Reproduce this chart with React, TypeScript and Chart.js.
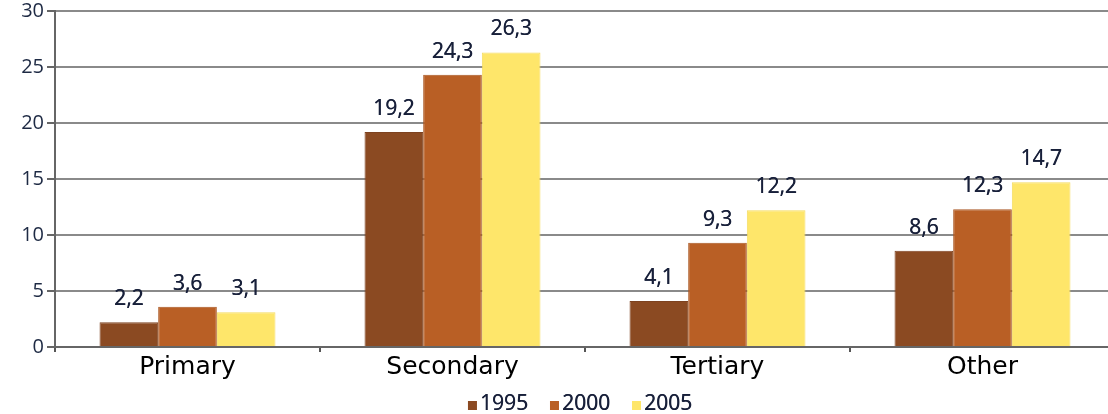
import React, { useEffect, useRef } from "react";
import { Chart, registerables } from "chart.js";

Chart.register(...registerables);

const categories = ["Primary", "Secondary", "Tertiary", "Other"];
const seriesNames = ["1995", "2000", "2005"];
const values1995 = [2.2, 19.2, 4.1, 8.6];
const values2000 = [3.6, 24.3, 9.3, 12.3];
const values2005 = [3.1, 26.3, 12.2, 14.7];
const seriesColors = ["#8B4A22", "#B95F25", "#FEE66A"];
const seriesBorders = ["#7d4220", "#a95622", "#f5dc5f"];
const yTicks = [0, 5, 10, 15, 20, 25, 30];

const labelFont = "'Open Sans', 'DejaVu Sans', sans-serif";

const dataLabelPlugin = {
  id: "dataLabels",
  afterDatasetsDraw(chart: any) {
    const ctx = chart.ctx;
    ctx.save();
    ctx.font = `21px ${labelFont}`;
    ctx.fillStyle = "#18203a";
    ctx.textAlign = "center";
    ctx.textBaseline = "middle";
    chart.data.datasets.forEach((ds: any, i: number) => {
      const meta = chart.getDatasetMeta(i);
      meta.data.forEach((bar: any, j: number) => {
        const v = ds.data[j];
        const t = String(v).replace(".", ",");
        ctx.fillText(t, bar.x, bar.y - 23);
        ctx.fillText(t, bar.x + 0.4, bar.y - 23);
      });
    });
    ctx.restore();
  },
};

const legendPlugin = {
  id: "customLegend",
  afterDraw(chart: any) {
    const ctx = chart.ctx;
    ctx.save();
    ctx.font = `21px ${labelFont}`;
    ctx.textBaseline = "alphabetic";
    ctx.textAlign = "left";
    const box = 9;
    const gap = 3;
    const itemGap = 22;
    const items = chart.data.datasets.map((ds: any) => ({
      label: ds.label,
      color: ds.backgroundColor,
      w: box + gap + ctx.measureText(ds.label).width,
    }));
    const total =
      items.reduce((s: number, it: any) => s + it.w, 0) + itemGap * (items.length - 1);
    const center = (chart.chartArea.left + chart.chartArea.right) / 2 - 5;
    let x = center - total / 2;
    const baseline = 410;
    items.forEach((it: any) => {
      ctx.fillStyle = it.color;
      ctx.fillRect(x, baseline - box, box, box);
      ctx.fillStyle = "#18203a";
      ctx.fillText(it.label, x + box + gap, baseline);
      ctx.fillText(it.label, x + box + gap + 0.4, baseline);
      x += it.w + itemGap;
    });
    ctx.restore();
  },
};

export default function App() {
  const canvasRef = useRef<HTMLCanvasElement | null>(null);

  useEffect(() => {
    if (!canvasRef.current) return;
    const seriesValues = [values1995, values2000, values2005];
    const chart = new Chart(canvasRef.current, {
      type: "bar",
      data: {
        labels: categories,
        datasets: seriesNames.map((name, i) => ({
          label: name,
          data: seriesValues[i],
          backgroundColor: seriesColors[i],
          borderColor: seriesBorders[i],
          borderWidth: 1,
          categoryPercentage: 0.664,
          barPercentage: 1.0,
        })),
      },
      options: {
        animation: false,
        responsive: true,
        maintainAspectRatio: false,
        layout: { padding: { top: 11, left: 0, right: 0, bottom: 0 } },
        plugins: {
          legend: { display: false },
          tooltip: { enabled: false },
          title: { display: false },
        },
        scales: {
          x: {
            offset: true,
            grid: {
              offset: true,
              drawOnChartArea: false,
              drawTicks: true,
              tickLength: 5,
              color: "#555555",
              lineWidth: 2,
            },
            border: { color: "#666666", width: 2 },
            ticks: {
              color: "#000000",
              font: { family: "'DejaVu Sans', sans-serif", size: 25 },
              padding: 0,
              maxRotation: 0,
            },
            afterFit(scale: any) {
              scale.height = 67;
              scale.paddingLeft = 0;
              scale.paddingRight = 0;
            },
          },
          y: {
            min: 0,
            max: 30,
            afterBuildTicks(scale: any) {
              scale.ticks = yTicks.map((v) => ({ value: v }));
            },
            grid: {
              color: "#8a8a8a",
              lineWidth: 2,
              drawTicks: true,
              tickLength: 8,
              tickColor: "#666666",
            },
            border: { color: "#666666", width: 2 },
            ticks: {
              color: "#1e2a44",
              font: { family: labelFont, size: 20 },
              padding: 3,
            },
            afterFit(scale: any) {
              scale.width = 55;
              scale.paddingTop = 0;
              scale.paddingBottom = 0;
            },
          },
        },
      },
      plugins: [dataLabelPlugin, legendPlugin],
    });
    return () => chart.destroy();
  }, []);

  return (
    <div
      style={{
        position: "fixed",
        left: 0,
        top: 0,
        width: 1108,
        height: 414,
        overflow: "hidden",
        background: "#ffffff",
      }}
    >
      <div style={{ position: "relative", width: 1115, height: 414 }}>
        <canvas ref={canvasRef} />
      </div>
    </div>
  );
}
